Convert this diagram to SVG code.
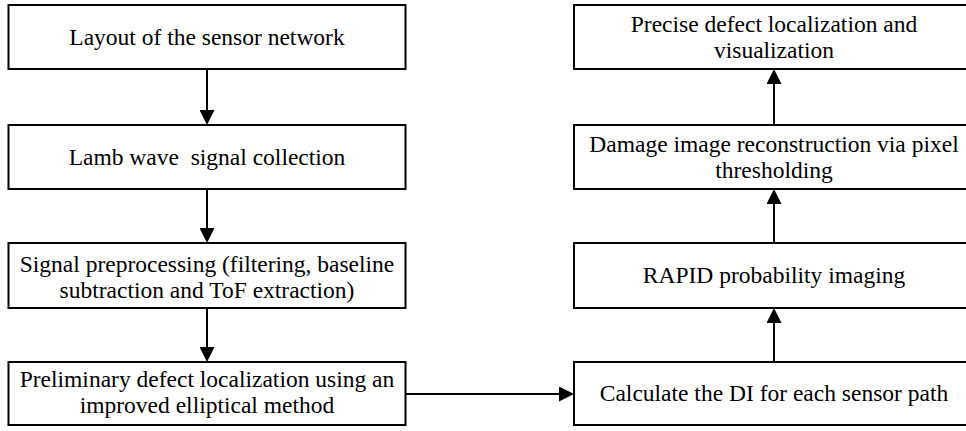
<svg xmlns="http://www.w3.org/2000/svg" width="966" height="431" viewBox="0 0 966 431">
<style>
.box{fill:#fff;stroke:#000;stroke-width:2}
.t{font-family:"Liberation Serif","Times New Roman",serif;font-size:23.5px;fill:#000;text-anchor:middle}
.c{stroke:#000;stroke-width:2;fill:none}
</style>
<defs>
<marker id="ah" markerUnits="userSpaceOnUse" markerWidth="15" markerHeight="15" refX="7" refY="7.5" orient="auto" viewBox="0 0 15 15">
<path d="M0,0 L15,7.5 L0,15 z" fill="#000"/>
</marker>
</defs>
<rect width="966" height="431" fill="#fff"/>
<g id="connectors">
<path class="c" d="M207,69 V117" marker-end="url(#ah)"/>
<path class="c" d="M207,189 V235" marker-end="url(#ah)"/>
<path class="c" d="M207,308 V354" marker-end="url(#ah)"/>
<path class="c" d="M406,394 H566" marker-end="url(#ah)"/>
<path class="c" d="M774,362 V316" marker-end="url(#ah)"/>
<path class="c" d="M774,243 V197" marker-end="url(#ah)"/>
<path class="c" d="M774,125 V77" marker-end="url(#ah)"/>
</g>
<g id="n1"><rect class="box" x="8.5" y="5" width="397" height="64"/><text class="t" x="207" y="45">Layout of the sensor network</text></g>
<g id="n2"><rect class="box" x="8.5" y="125" width="397" height="64"/><text class="t" x="207" y="165" xml:space="preserve">Lamb wave  signal collection</text></g>
<g id="n3"><rect class="box" x="8.5" y="243" width="397" height="65"/><text class="t" x="207" y="272">Signal preprocessing (filtering, baseline</text><text class="t" x="207" y="298">subtraction and ToF extraction)</text></g>
<g id="n4"><rect class="box" x="8.5" y="362" width="397" height="63"/><text class="t" x="207" y="387">Preliminary defect localization using an</text><text class="t" x="207" y="413">improved elliptical method</text></g>
<g id="n5"><rect class="box" x="574" y="362" width="400" height="63"/><text class="t" x="774" y="401">Calculate the DI for each sensor path</text></g>
<g id="n6"><rect class="box" x="574" y="243" width="400" height="65"/><text class="t" x="774" y="283">RAPID probability imaging</text></g>
<g id="n7"><rect class="box" x="574" y="125" width="400" height="64"/><text class="t" x="774" y="152">Damage image reconstruction via pixel</text><text class="t" x="774" y="178">thresholding</text></g>
<g id="n8"><rect class="box" x="574" y="5" width="400" height="64"/><text class="t" x="774" y="32">Precise defect localization and</text><text class="t" x="774" y="58">visualization</text></g>
</svg>
